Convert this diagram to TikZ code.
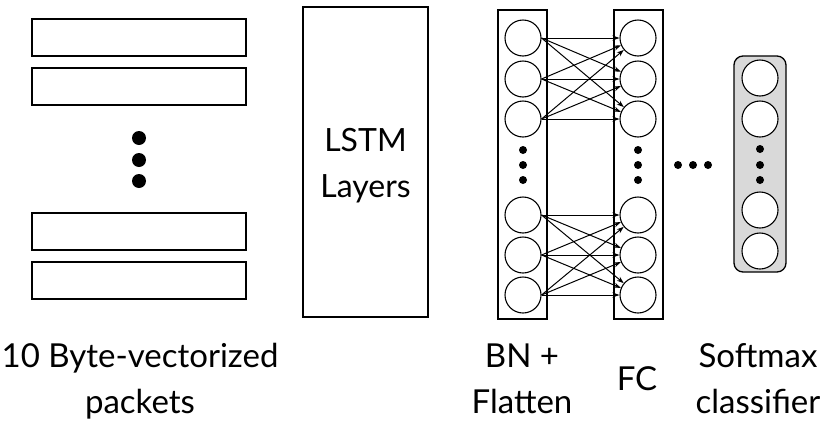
\documentclass[tikz,border=0pt]{standalone}
\usepackage{fontspec}
\setmainfont{Lato}
\usetikzlibrary{arrows.meta}
\begin{document}
\begin{tikzpicture}[x=1pt,y=-1pt,
  box/.style={draw,line width=1.3pt},
  neuron/.style={circle,draw,line width=1.1pt,minimum size=36pt,inner sep=0pt,fill=white},
  dotc/.style={circle,fill=black,inner sep=0pt,minimum size=#1},
  conn/.style={-{Stealth[length=7pt,width=5pt]},line width=1pt},
  lbl/.style={font=\fontsize{33}{46}\selectfont,align=center,anchor=base,inner sep=0pt}]
\useasboundingbox (0,0) rectangle (831,437);
% input packets
\node[box,minimum width=214pt,minimum height=37pt,inner sep=0pt] (p1) at (139,37.5) {};
\node[box,minimum width=214pt,minimum height=37pt,inner sep=0pt] (p2) at (139,86.5) {};
\node[box,minimum width=214pt,minimum height=37pt,inner sep=0pt] (p3) at (139,231.5) {};
\node[box,minimum width=214pt,minimum height=37pt,inner sep=0pt] (p4) at (139,280.5) {};
\node[dotc=14pt] (pd1) at (139,138) {};
\node[dotc=14pt] (pd2) at (139,160) {};
\node[dotc=14pt] (pd3) at (139,181) {};
% LSTM
\node[box,minimum width=125pt,minimum height=310pt,inner sep=0pt] (lstm) at (365.5,162) {};
\node[font=\fontsize{32}{46}\selectfont,align=center] (lstmt) at (365.5,166) {LSTM\\Layers};
% BN column
\node[box,minimum width=49pt,minimum height=309pt,inner sep=0pt] (bncol) at (522.5,164.5) {};
\node[box,minimum width=49pt,minimum height=309pt,inner sep=0pt] (fccol) at (638.5,164.5) {};
\foreach \i/\y in {1/38,2/79,3/119,4/215,5/255,6/295}{
  \node[neuron] (b\i) at (523,\y) {};
  \node[neuron] (f\i) at (638,\y) {};
}
\foreach \i/\y in {1/150,2/165,3/180}{
  \node[dotc=8pt] (bd\i) at (523,\y) {};
  \node[dotc=8pt] (fd\i) at (638,\y) {};
}
\foreach \s in {1,2,3}{\foreach \t in {1,2,3}{\draw[conn] (b\s.east) -- (f\t);}}
\foreach \s in {4,5,6}{\foreach \t in {4,5,6}{\draw[conn] (b\s.east) -- (f\t);}}
% ellipsis
\node[dotc=8pt] (e1) at (678,165) {};
\node[dotc=8pt] (e2) at (693,165) {};
\node[dotc=8pt] (e3) at (708,165) {};
% softmax
\node[draw,line width=1.3pt,rounded corners=9pt,fill=black!15,minimum width=52pt,minimum height=216pt,inner sep=0pt] (sm) at (760,164) {};
\foreach \i/\y in {1/78,2/119,3/210,4/251}{\node[neuron] (s\i) at (760,\y) {};}
\foreach \i/\y in {1/149,2/165,3/180}{\node[dotc=8pt] (sd\i) at (760,\y) {};}
% labels
\node[lbl] (l1) at (140,413) {10 Byte-vectorized\\packets};
\node[lbl] (l2) at (522,413) {BN +\\Flatten};
\node[lbl] (l3) at (637,390) {FC};
\node[lbl] (l4) at (758,413) {Softmax\\classifier};
\end{tikzpicture}
\end{document}
